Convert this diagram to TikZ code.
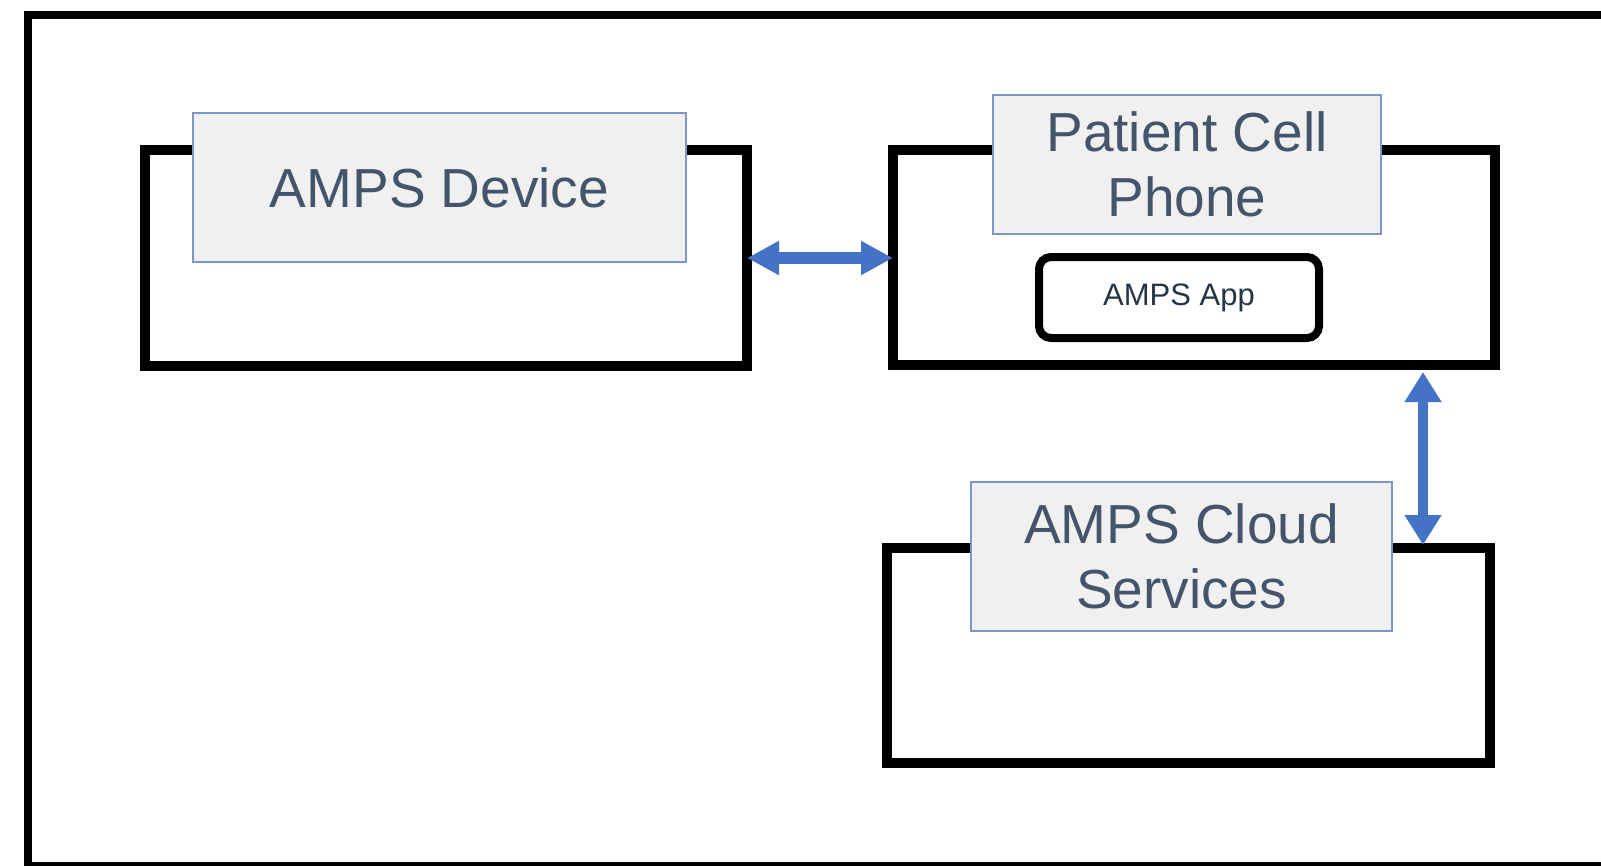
\documentclass[tikz,border=0pt]{standalone}
\usepackage{fontspec}
\setmainfont{Liberation Sans}
\usetikzlibrary{arrows.meta}
\definecolor{lblfill}{HTML}{F0F0F0}
\definecolor{lbldraw}{HTML}{7F97C6}
\definecolor{lbltext}{HTML}{44546A}
\definecolor{apptext}{HTML}{263545}
\definecolor{arrblue}{HTML}{4472C4}
\tikzset{
  blockbox/.style={draw=black, line width=7.5pt, outer sep=0pt, inner sep=0pt, fill=white},
  lblbox/.style={draw=lbldraw, fill=lblfill, line width=1.1pt, inner sep=0pt, text=lbltext,
    align=center, font=\fontsize{41.25pt}{48.75pt}\selectfont},
  appbox/.style={draw=black, line width=6pt, rounded corners=9pt, inner sep=0pt, outer sep=0pt,
    text=apptext, font=\fontsize{23.25pt}{27pt}\selectfont},
  harr/.style={draw=arrblue, line width=9pt, {Triangle[length=24pt,width=24pt]}-{Triangle[length=24pt,width=24pt]}},
  varr/.style={draw=arrblue, line width=7.5pt, {Triangle[length=22.5pt,width=26.25pt]}-{Triangle[length=22.5pt,width=26.25pt]}},
  frame/.style={draw=black, line width=6pt}
}
\begin{document}
\begin{tikzpicture}[x=0.75pt, y=-0.75pt]
\useasboundingbox (0,0) rectangle (1601,865);
\fill[white] (0,0) rectangle (1601,865);
\begin{scope}
\clip (0,0) rectangle (1601,865);
\draw[frame] (27.5,15) rectangle (1650,866);
\end{scope}
% black outer boxes
\node[blockbox, minimum width=451.5pt, minimum height=162pt] (dev) at (446,258) {};
\node[blockbox, minimum width=451.5pt, minimum height=161.25pt] (phone) at (1194,257.5) {};
\node[blockbox, minimum width=452.25pt, minimum height=161.25pt] (cloud) at (1188.5,655.5) {};
% label boxes
\node[lblbox, minimum width=369.75pt, minimum height=111.75pt] (devlbl) at (439.5,187.5) {AMPS Device};
\node[lblbox, minimum width=291pt, minimum height=104.25pt] (phonelbl) at (1187,164.5) {Patient Cell\\Phone};
\node[lblbox, minimum width=315.75pt, minimum height=111.75pt] (cloudlbl) at (1181.5,556.5) {AMPS Cloud\\Services};
% app box
\node[appbox, minimum width=210pt, minimum height=60.75pt] (app) at (1179,297.5) {AMPS App};
% arrows
\coordinate (vx) at (1423,0);
\draw[harr] (dev.east) -- (dev.east -| phone.west);
\draw[varr, shorten <=5.25pt, shorten >=2.25pt] (phone.south -| vx) -- (cloud.north -| vx);
\end{tikzpicture}
\end{document}
